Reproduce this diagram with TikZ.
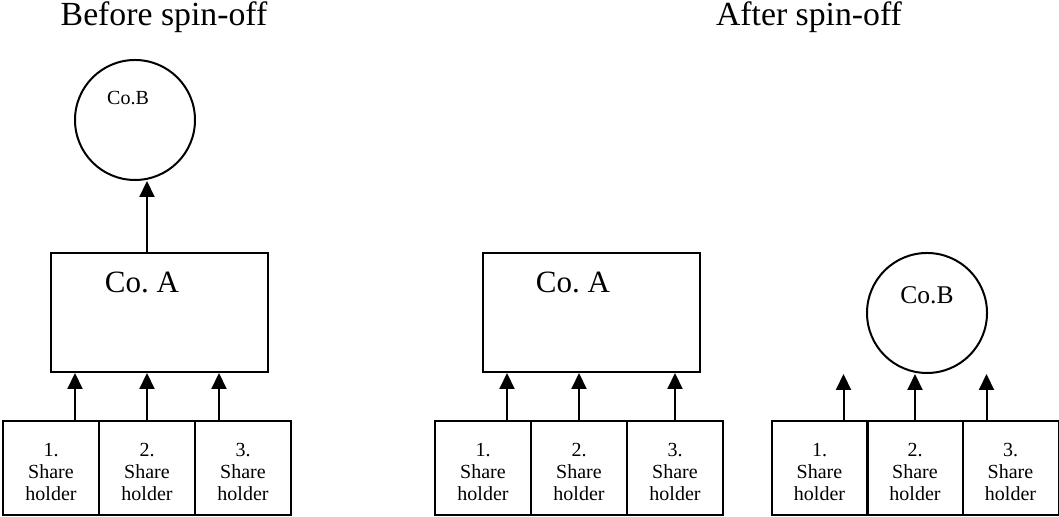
\documentclass[tikz,border=0pt]{standalone}
\usepackage{fontspec}
\setmainfont{Liberation Serif}
\usetikzlibrary{arrows.meta,calc}

\begin{document}
\begin{tikzpicture}[x=0.4pt, y=0.4pt,
  ttl/.style={anchor=base, inner sep=0pt, font=\fontsize{13.5}{15}\selectfont},
  firm/.style={draw, line width=0.8pt, inner sep=0pt, minimum width=86.8pt, minimum height=47.6pt},
  firmB/.style={draw, circle, line width=0.8pt, inner sep=0pt, minimum size=48pt},
  lbl/.style={anchor=base, inner sep=0pt},
  holder/.style={draw, line width=0.8pt, inner sep=0pt, minimum width=38.4pt, minimum height=37.8pt, align=center, font=\fontsize{8}{8.8}\selectfont},
  arr/.style={-{Triangle[length=6.4pt,width=6pt]}, line width=0.8pt},
]
\useasboundingbox (0,0) rectangle (1059,517);
% ---- titles ----
\node[ttl] (tBefore) at (164,491) {Before spin-off};
\node[ttl] (tAfter) at (809,491) {After spin-off};
% ---- before spin-off ----
\node[firm] (coA1) at (159.5,204.5) {};
\node[lbl, font=\fontsize{12.4}{14}\selectfont] (coA1t) at (142,224) {Co.\ A};
\node[firmB] (coB1) at (135,397) {};
\node[lbl, font=\fontsize{8}{9}\selectfont] (coB1t) at (128,412) {Co.B};
\foreach \i/\x in {1/51,2/147,3/243}{\node[holder] (lh\i) at (\x,48.75) {\rule{0pt}{8.5pt}\i.\\Share\\holder};}
\foreach \i/\dx in {1/24,2/0,3/-24}{
  \coordinate (la\i) at ($(lh\i.north)+(\dx,0)$);
  \draw[arr] (la\i) -- (la\i |- coA1.south);
}
\draw[arr] (coA1.north -| la2) -- (la2 |- coB1.south);
% ---- after spin-off: Co. A ----
\node[firm] (coA2) at (591.5,204.5) {};
\node[lbl, font=\fontsize{12.4}{14}\selectfont] (coA2t) at (573,224) {Co.\ A};
\foreach \i/\x in {1/483,2/579,3/675}{\node[holder] (mh\i) at (\x,48.75) {\rule{0pt}{8.5pt}\i.\\Share\\holder};}
\foreach \i/\dx in {1/24,2/0,3/0}{
  \coordinate (ma\i) at ($(mh\i.north)+(\dx,0)$);
  \draw[arr] (ma\i) -- (ma\i |- coA2.south);
}
% ---- after spin-off: Co.B ----
\node[firmB] (coB2) at (927,204) {};
\node[lbl, font=\fontsize{10.2}{12}\selectfont] (coB2t) at (927,213) {Co.B};
\foreach \i/\x in {1/819.5,2/915,3/1010.5}{\node[holder] (rh\i) at (\x,48.75) {\rule{0pt}{8.5pt}\i.\\Share\\holder};}
\foreach \i/\dx in {1/24,2/0,3/-24}{
  \coordinate (ra\i) at ($(rh\i.north)+(\dx,0)$);
  \draw[arr] (ra\i) -- (ra\i |- coB2.south);
}
\end{tikzpicture}
\end{document}
